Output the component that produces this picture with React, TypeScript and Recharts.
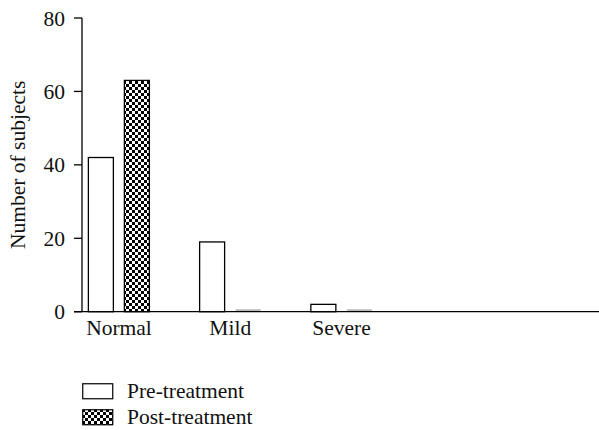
import React from 'react'
import { BarChart, Bar, XAxis, YAxis, Legend, ReferenceLine } from 'recharts'

const categories = ['Normal', 'Mild', 'Severe']
const positions = [0, 1, 2]
const preTreatment = [42, 19, 2]
const postTreatment = [63, 0, 0]
const seriesNames = ['Pre-treatment', 'Post-treatment']
const yTicks = [0, 20, 40, 60, 80]

const FONT = "'Liberation Serif', 'DejaVu Serif', serif"
const FONT_SIZE = 21.5

// numeric x axis: one unit per category, domain pushed so the groups land where the original has them
const X_MIN = -0.3326
const X_MAX = 4.315

const data = positions.map((p, i) => ({
  pos: p,
  name: categories[i],
  pre: preTreatment[i],
  post: postTreatment[i],
}))

function BarShape(props: any) {
  const { x, y, width, height, fill } = props
  if (!height || height < 0.5) {
    return <line x1={x} x2={x + width} y1={y - 1.6} y2={y - 1.6} stroke="#a0a0a0" strokeWidth={1.3} />
  }
  return <rect x={x} y={y} width={width} height={height} fill={fill} stroke="#000" strokeWidth={1.3} />
}

function LegendBox() {
  return (
    <div style={{ fontFamily: FONT, fontSize: FONT_SIZE, color: '#111', lineHeight: '26px' }}>
      {seriesNames.map((n, i) => (
        <div key={n} style={{ display: 'flex', alignItems: 'center', height: 26 }}>
          <svg width={32} height={17} style={{ marginRight: 13 }}>
            <rect x={0.75} y={0.75} width={30} height={15} fill={i === 0 ? '#fff' : 'url(#checker)'} stroke="#000" strokeWidth={1.2} />
          </svg>
          <span>{n}</span>
        </div>
      ))}
    </div>
  )
}

export default function App() {
  return (
    <div style={{ position: 'absolute', left: 0, top: 0, width: 599, height: 430, background: '#fff', fontFamily: FONT }}>
      <BarChart
        width={599}
        height={430}
        data={data}
        margin={{ top: 18, right: 0, bottom: 0, left: 0 }}
        barSize={25}
        barGap={11}
      >
        <defs>
          <pattern id="checker" width={6} height={6} patternUnits="userSpaceOnUse">
            <rect width={6} height={6} fill="#fff" />
            <rect width={3} height={3} fill="#000" />
            <rect x={3} y={3} width={3} height={3} fill="#000" />
          </pattern>
        </defs>
        <XAxis
          dataKey="pos"
          type="number"
          domain={[X_MIN, X_MAX]}
          ticks={positions}
          tickFormatter={(v: number) => categories[v] ?? ''}
          tickLine={false}
          axisLine={{ stroke: '#000', strokeWidth: 1.3 }}
          tick={{ fill: '#111', fontFamily: FONT, fontSize: FONT_SIZE }}
          height={118.3}
          allowDataOverflow
        />
        <YAxis
          domain={[0, 80]}
          ticks={yTicks}
          width={82}
          tickSize={8}
          tickMargin={9}
          axisLine={{ stroke: '#000', strokeWidth: 1.3 }}
          tickLine={{ stroke: '#000', strokeWidth: 1.3 }}
          tick={{ fill: '#111', fontFamily: FONT, fontSize: FONT_SIZE }}
          label={{
            content: (p: any) => {
              const vb = p.viewBox
              const cx = vb.x + 18
              const cy = vb.y + vb.height / 2
              return (
                <text
                  x={cx}
                  y={cy}
                  transform={`rotate(-90 ${cx} ${cy})`}
                  textAnchor="middle"
                  dominantBaseline="central"
                  fill="#111"
                  fontFamily={FONT}
                  fontSize={FONT_SIZE}
                >
                  Number of subjects
                </text>
              )
            },
          }}
        />
        <ReferenceLine
          segment={[{ x: X_MIN - 0.072, y: 0 }, { x: X_MIN, y: 0 }]}
          stroke="#000"
          strokeWidth={1.3}
          ifOverflow="visible"
        />
        <Bar dataKey="pre" name={seriesNames[0]} fill="#fff" shape={BarShape} isAnimationActive={false} />
        <Bar dataKey="post" name={seriesNames[1]} fill="url(#checker)" shape={BarShape} isAnimationActive={false} />
        <Legend
          layout="vertical"
          align="center"
          verticalAlign="middle"
          content={LegendBox}
          wrapperStyle={{ left: 82, top: 378, width: 260 }}
        />
      </BarChart>
    </div>
  )
}
